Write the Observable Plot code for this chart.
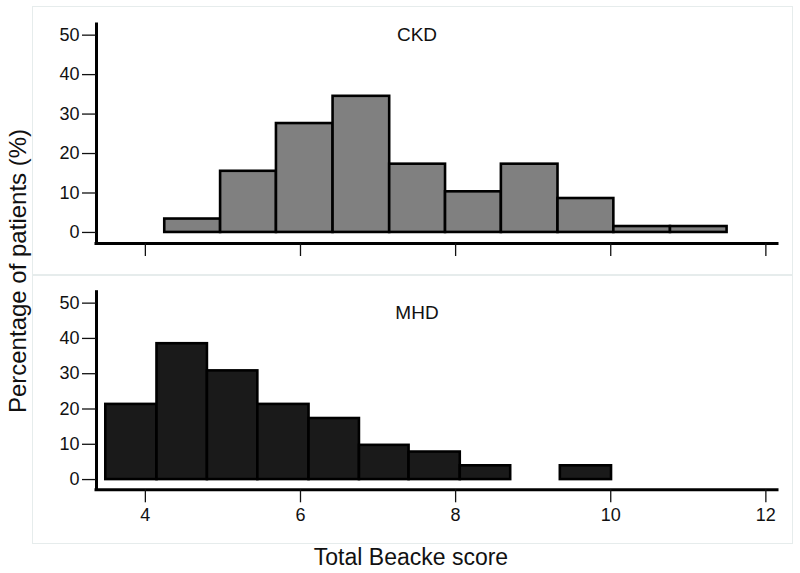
<!DOCTYPE html>
<html>
<head>
<meta charset="utf-8">
<script src="https://cdn.jsdelivr.net/npm/d3@7"></script>
<script src="https://cdn.jsdelivr.net/npm/@observablehq/plot@0.6"></script>
<style>
  html, body { margin: 0; padding: 0; background: #fff; }
  #chart { position: relative; width: 800px; height: 573px; background: #fff;
           font-family: 'Liberation Sans', Arial, sans-serif; color: #111; overflow: hidden; }
  .panel { position: absolute; left: 33px; width: 759px; height: 268px; outline: 1px solid #e6ecec; }
  .title { position: absolute; line-height: 24px; height: 24px; text-align: center; white-space: nowrap; }
</style>
</head>
<body>
<div id="chart">
  <div class="panel" id="top" style="top:7px"></div>
  <div class="panel" id="bottom" style="top:275px"></div>
  <div class="title" id="ytitle" style="font-size:24px; left:-182px; top:259px; width:400px; transform: rotate(-90deg);">Percentage of patients (%)</div>
  <div class="title" id="xtitle" style="font-size:23px; left:211px; top:545px; width:400px;">Total Beacke score</div>
</div>
<script>
// ---- data ----
const xTicks = [4, 6, 8, 10, 12];
const yTicks = [0, 10, 20, 30, 40, 50];

const ckdName = "CKD";
const ckdEdges = [4.25, 4.97, 5.69, 6.42, 7.15, 7.87, 8.59, 9.32, 10.04, 10.77, 11.5];
const ckdPct   = [3.4, 15.5, 27.6, 34.5, 17.3, 10.3, 17.3, 8.6, 1.5, 1.5];

const mhdName = "MHD";
const mhdEdges = [3.49, 4.15, 4.80, 5.45, 6.11, 6.76, 7.40, 8.06, 8.71, 9.35, 10.01];
const mhdPct   = [21.3, 38.5, 30.8, 21.3, 17.3, 9.7, 7.8, 3.9, 0, 3.9];

const xDomain = [3.37, 12.15];

function panel({edges, pct, fill, yDomain, mTop, mBottom, name, nameDy, showLabels}) {
  const data = pct.map((v, i) => ({x1: edges[i], x2: edges[i + 1], v})).filter(d => d.v > 0);
  return Plot.plot({
    width: 759, height: 268,
    marginLeft: 63, marginRight: 15, marginTop: mTop, marginBottom: mBottom,
    style: {fontFamily: "'Liberation Sans', Arial, sans-serif", fontSize: "18px", color: "#111", background: "transparent", overflow: "visible"},
    x: {domain: xDomain},
    y: {domain: yDomain},
    marks: [
      Plot.rectY(data, {x1: "x1", x2: "x2", y1: 0, y2: "v", fill, stroke: "#000", strokeWidth: 2.6}),
      Plot.ruleX([xDomain[0]], {y1: yDomain[0], y2: yDomain[1], stroke: "#000", strokeWidth: 3, strokeLinecap: "square"}),
      Plot.ruleY([yDomain[0]], {x1: xDomain[0], x2: xDomain[1], stroke: "#000", strokeWidth: 3, strokeLinecap: "square"}),
      Plot.axisY(yTicks, {tickSize: 14, tickPadding: 3, fontSize: 18, label: null, strokeWidth: 1.3}),
      Plot.axisX(xTicks, {tickSize: 13, tickPadding: 5, fontSize: 18, label: null, strokeWidth: 1.3,
                          tickFormat: showLabels ? (d => String(d)) : (() => "")}),
      Plot.text([name], {frameAnchor: "top", dx: -20, dy: nameDy, lineAnchor: "middle", fontSize: 19, fill: "#111"})
    ]
  });
}

document.getElementById("top").appendChild(panel({
  edges: ckdEdges, pct: ckdPct, fill: "#808080",
  yDomain: [-2.8, 52.7], mTop: 17, mBottom: 32,
  name: ckdName, nameDy: 10.5, showLabels: false
}));
document.getElementById("bottom").appendChild(panel({
  edges: mhdEdges, pct: mhdPct, fill: "#1a1a1a",
  yDomain: [-2.9, 53.1], mTop: 16.7, mBottom: 53.7,
  name: mhdName, nameDy: 20.3, showLabels: true
}));
</script>
</body>
</html>
